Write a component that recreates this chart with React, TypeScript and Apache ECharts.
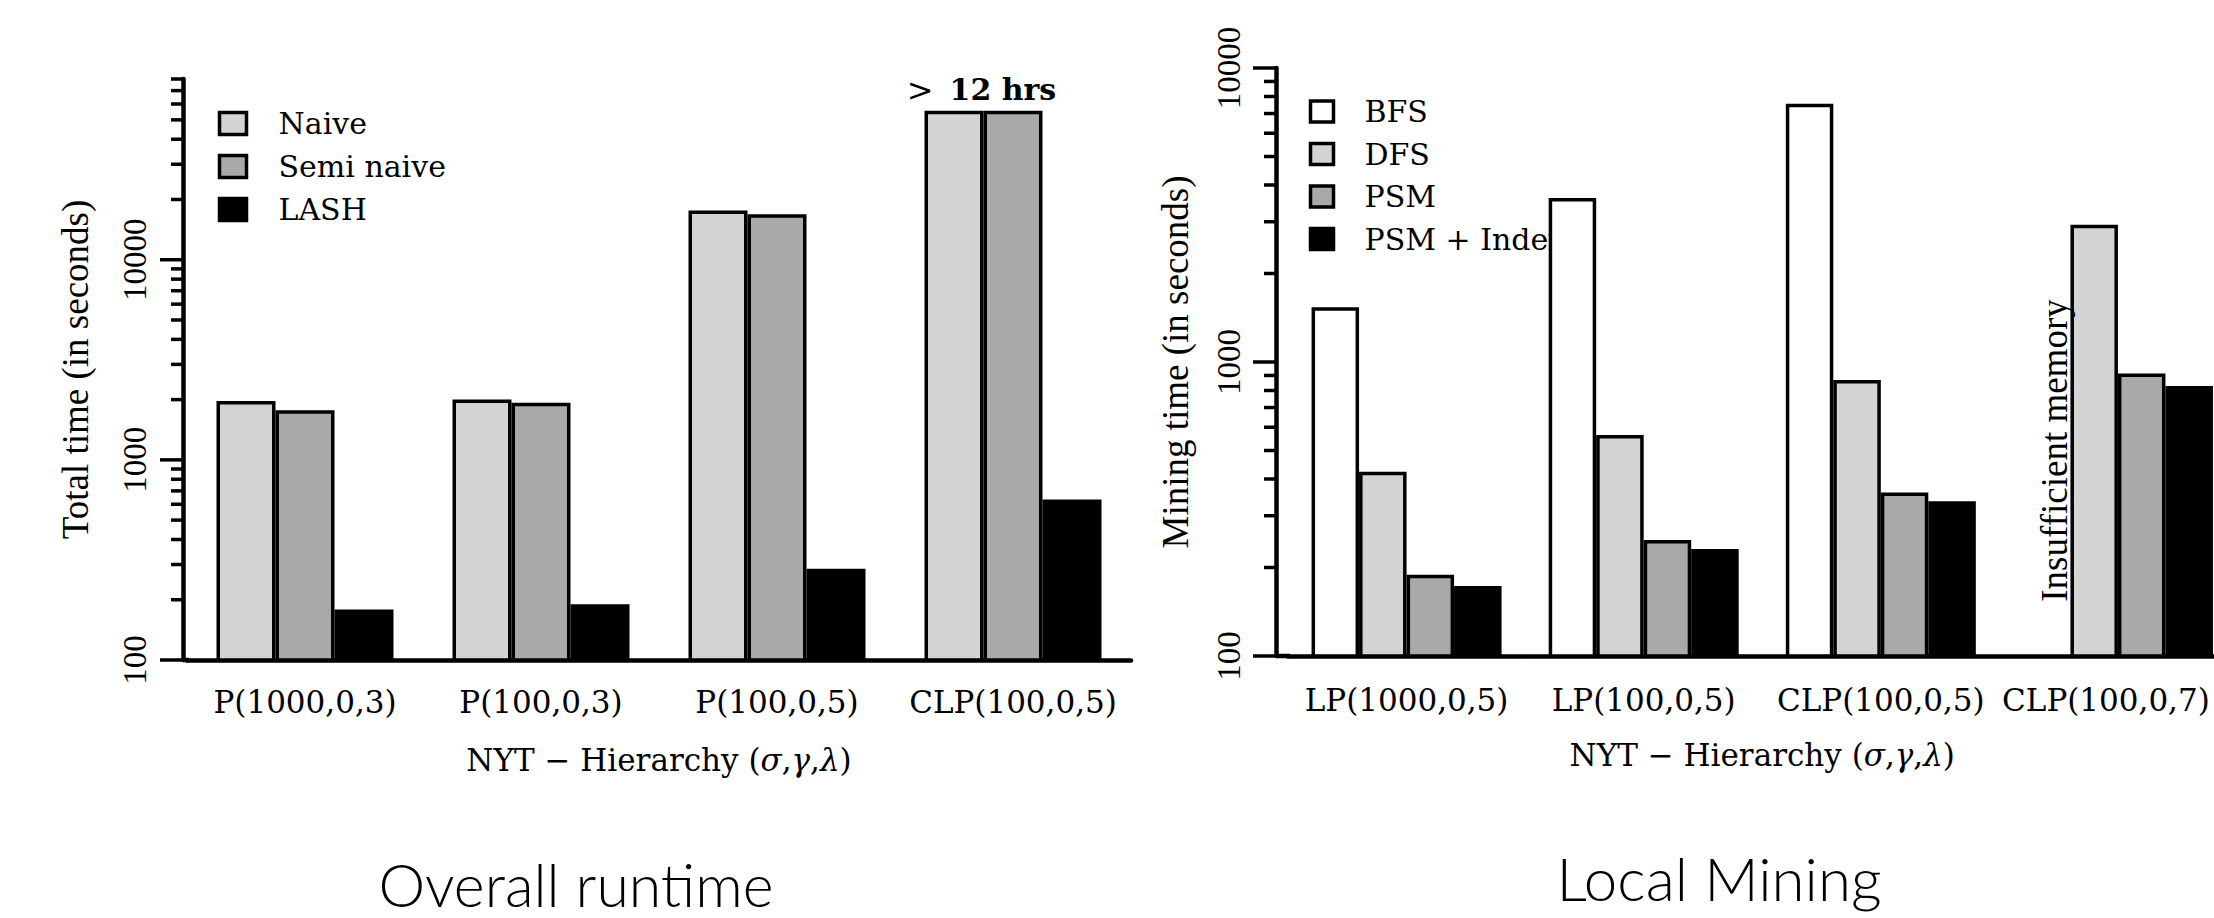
import React, { useEffect, useRef } from 'react';
import * as echarts from 'echarts';

// ---------- data ----------
const leftCategories = ['P(1000,0,3)', 'P(100,0,3)', 'P(100,0,5)', 'CLP(100,0,5)'];
const naive = [1970, 2000, 17600, 55500];
const semiNaive = [1770, 1930, 16900, 55500];
const lash = [179, 190, 286, 633];
const leftTicks = [100, 200, 300, 400, 500, 600, 700, 800, 900, 1000, 2000, 3000, 4000, 5000, 6000, 7000, 8000, 9000, 10000, 20000, 30000, 40000, 50000, 60000, 70000, 80000];

const rightCategories = ['LP(1000,0,5)', 'LP(100,0,5)', 'CLP(100,0,5)', 'CLP(100,0,7)'];
const bfs = [1535, 3615, 7560, null];
const dfs = [423, 565, 868, 2930];
const psm = [189, 248, 360, 913];
const psmIndex = [173, 231, 336, 829];
const rightTicks = [100, 200, 300, 400, 500, 600, 700, 800, 900, 1000, 2000, 3000, 4000, 5000, 6000, 7000, 8000, 9000, 10000];

const majorTicks = [100, 1000, 10000];

// ---------- layout ----------
const W = 2214;
const H = 918;
const L = { left: 187, right: 1131, top: 79, bottom: 660, axisX: 183, barW: 59 };
const R = { left: 1288, right: 2236.5, top: 68, bottom: 656, axisX: 1276, barW: 47.5 };

const SERIF_WIDE = '"DejaVu Serif", serif';
const SERIF_NARROW = '"Liberation Serif", "Times New Roman", serif';
const SANS = 'Lato, "Open Sans", sans-serif';

const isPow10 = (v: number) => {
  const l = Math.log10(v);
  return Math.abs(l - Math.round(l)) < 1e-6;
};

function tickSeries(gridIdx: number, ticks: number[], axisX: number) {
  return {
    type: 'custom',
    xAxisIndex: gridIdx,
    yAxisIndex: gridIdx,
    silent: true,
    clip: false,
    z: 6,
    data: ticks.map((v) => [0, v, majorTicks.includes(v) ? 1 : 0]),
    encode: { x: 0, y: 1 },
    renderItem: (params: any, api: any) => {
      const y = api.coord([0, api.value(1)])[1];
      const len = api.value(2) ? 23 : 12;
      return {
        type: 'line',
        shape: { x1: axisX - len, y1: y, x2: axisX, y2: y },
        style: { stroke: '#000', lineWidth: 3.5 },
      };
    },
  };
}

function bar(name: string, data: any[], color: string, gridIdx: number, width: number) {
  return {
    type: 'bar',
    name,
    data,
    xAxisIndex: gridIdx,
    yAxisIndex: gridIdx,
    barWidth: width,
    barGap: '0%',
    z: 2,
    itemStyle: { color, borderColor: '#000', borderWidth: 3.5 },
  };
}

function xAxis(gridIdx: number, data: string[], margin: number, nameGap: number, lastPad: number) {
  const n = data.length;
  return {
    type: 'category',
    gridIndex: gridIdx,
    data,
    axisLine: { show: true, lineStyle: { color: '#000', width: 4.5, cap: 'round' } },
    axisTick: { show: false },
    splitLine: { show: false },
    axisLabel: {
      interval: 0,
      margin,
      color: '#000',
      fontFamily: SERIF_WIDE,
      fontSize: 31,
      hideOverlap: false,
      formatter: (v: string, i: number) => (i === n - 1 && lastPad > 0 ? `{last|${v}}` : v),
      rich: { last: { fontFamily: SERIF_WIDE, fontSize: 31, color: '#000', padding: [0, lastPad, 0, 0] } },
    },
    name: 'NYT − Hierarchy ({i|σ},{i|γ},{i|λ})',
    nameLocation: 'middle',
    nameGap,
    nameTextStyle: {
      color: '#000',
      fontFamily: SERIF_WIDE,
      fontSize: 31,
      rich: { i: { fontStyle: 'italic', fontFamily: SERIF_WIDE, fontSize: 31, color: '#000' } },
    },
  };
}

function yAxis(gridIdx: number, max: number, offset: number, name: string, nameGap: number, margin: number) {
  return {
    type: 'log',
    logBase: 10,
    gridIndex: gridIdx,
    min: 100,
    max,
    offset,
    axisLine: { show: true, lineStyle: { color: '#000', width: 4.5, cap: 'round' } },
    axisTick: { show: false },
    minorTick: { show: false },
    splitLine: { show: false },
    minorSplitLine: { show: false },
    axisLabel: {
      rotate: 90,
      margin,
      color: '#000',
      fontFamily: SERIF_NARROW,
      fontSize: 33,
      showMinLabel: true,
      showMaxLabel: true,
      formatter: (v: number) => (isPow10(v) ? String(Math.round(v)) : ''),
    },
    name,
    nameLocation: 'middle',
    nameGap,
    nameTextStyle: { color: '#000', fontFamily: SERIF_NARROW, fontSize: 37 },
  };
}

function legend(names: string[], left: number, top: number, iw: number, ih: number, gap: number, pad: number) {
  return {
    orient: 'vertical',
    left,
    top,
    padding: 0,
    itemWidth: iw,
    itemHeight: ih,
    itemGap: gap,
    icon: 'rect',
    selectedMode: false,
    z: 1,
    data: names,
    itemStyle: { borderColor: '#000', borderWidth: 3.5 },
    textStyle: { color: '#000', fontFamily: SERIF_WIDE, fontSize: 30, padding: [0, 0, 0, pad] },
  };
}

export default function App() {
  const ref = useRef<HTMLDivElement>(null);

  useEffect(() => {
    if (!ref.current) return;
    const chart = echarts.init(ref.current, null, { renderer: 'svg', width: W, height: H });

    const naiveData: any[] = naive.map((v, i) =>
      i === 3
        ? {
            value: v,
            label: {
              show: true,
              position: 'top',
              distance: 5,
              offset: [L.barW / 2 - 2, 0],
              formatter: '{n|>}{b|12 hrs}',
              rich: {
                n: { fontFamily: SERIF_WIDE, fontSize: 32, color: '#000', padding: [0, 16, 0, 0] },
                b: { fontFamily: SERIF_WIDE, fontSize: 30, fontWeight: 'bold', color: '#000' },
              },
            },
          }
        : v
    );

    const option: any = {
      animation: false,
      backgroundColor: '#fff',
      textStyle: { fontFamily: SERIF_WIDE },
      grid: [
        { left: L.left, top: L.top, width: L.right - L.left, height: L.bottom - L.top, containLabel: false, outerBoundsMode: 'none' },
        { left: R.left, top: R.top, width: R.right - R.left, height: R.bottom - R.top, containLabel: false, outerBoundsMode: 'none' },
      ],
      legend: [
        legend(['Naive', 'Semi naive', 'LASH'], 217.75, 108.5, 27, 22, 13, 27),
        legend(['BFS', 'DFS', 'PSM', 'PSM + Index'], 1308.75, 96.5, 23, 21, 12.5, 26),
      ],
      xAxis: [xAxis(0, leftCategories, 26.5, 84.5, 0), xAxis(1, rightCategories, 28.5, 83.5, 24)],
      yAxis: [
        yAxis(0, 80000, L.left - L.axisX, 'Total time (in seconds)', 89, 32),
        yAxis(1, 10000, R.left - R.axisX, 'Mining time (in seconds)', 82, 31),
      ],
      series: [
        bar('Naive', naiveData, '#d3d3d3', 0, L.barW),
        bar('Semi naive', semiNaive, '#a9a9a9', 0, L.barW),
        bar('LASH', lash, '#000000', 0, L.barW),
        bar('BFS', bfs, '#ffffff', 1, R.barW),
        bar('DFS', dfs, '#d3d3d3', 1, R.barW),
        bar('PSM', psm, '#a9a9a9', 1, R.barW),
        bar('PSM + Index', psmIndex, '#000000', 1, R.barW),
        tickSeries(0, leftTicks, L.axisX),
        tickSeries(1, rightTicks, R.axisX),
      ],
    };
    chart.setOption(option);

    // "Insufficient memory" note placed from the right chart's own scales
    const p = chart.convertToPixel({ xAxisIndex: 1, yAxisIndex: 1 } as any, [3, 500]) as number[];
    const noteX = p[0] - R.barW - 16;
    chart.setOption({
      graphic: [
        { type: 'line', shape: { x1: L.axisX, y1: L.bottom, x2: L.left + 2, y2: L.bottom }, style: { stroke: '#000', lineWidth: 4.5 }, z: 10 },
        { type: 'line', shape: { x1: R.axisX, y1: R.bottom, x2: R.left + 2, y2: R.bottom }, style: { stroke: '#000', lineWidth: 4.5 }, z: 10 },
        {
          type: 'text',
          x: noteX,
          y: p[1],
          rotation: Math.PI / 2,
          z: 10,
          style: { text: 'Insufficient memory', fontFamily: SERIF_NARROW, fontSize: 37, fill: '#000', align: 'center', verticalAlign: 'middle' },
        },
        {
          type: 'text',
          x: 576,
          y: 884,
          z: 10,
          style: { text: 'Overall runtime', fontFamily: SANS, fontWeight: 300, fontSize: 59, lineHeight: 44, fill: '#000', align: 'center', verticalAlign: 'middle' },
        },
        {
          type: 'text',
          x: 1719,
          y: 878,
          z: 10,
          style: { text: 'Local Mining', fontFamily: SANS, fontWeight: 300, fontSize: 60, lineHeight: 44, fill: '#000', align: 'center', verticalAlign: 'middle' },
        },
      ],
    });

    return () => chart.dispose();
  }, []);

  return (
    <div
      ref={ref}
      style={{ position: 'fixed', left: 0, top: 0, width: W, height: H, background: '#fff' }}
    />
  );
}
